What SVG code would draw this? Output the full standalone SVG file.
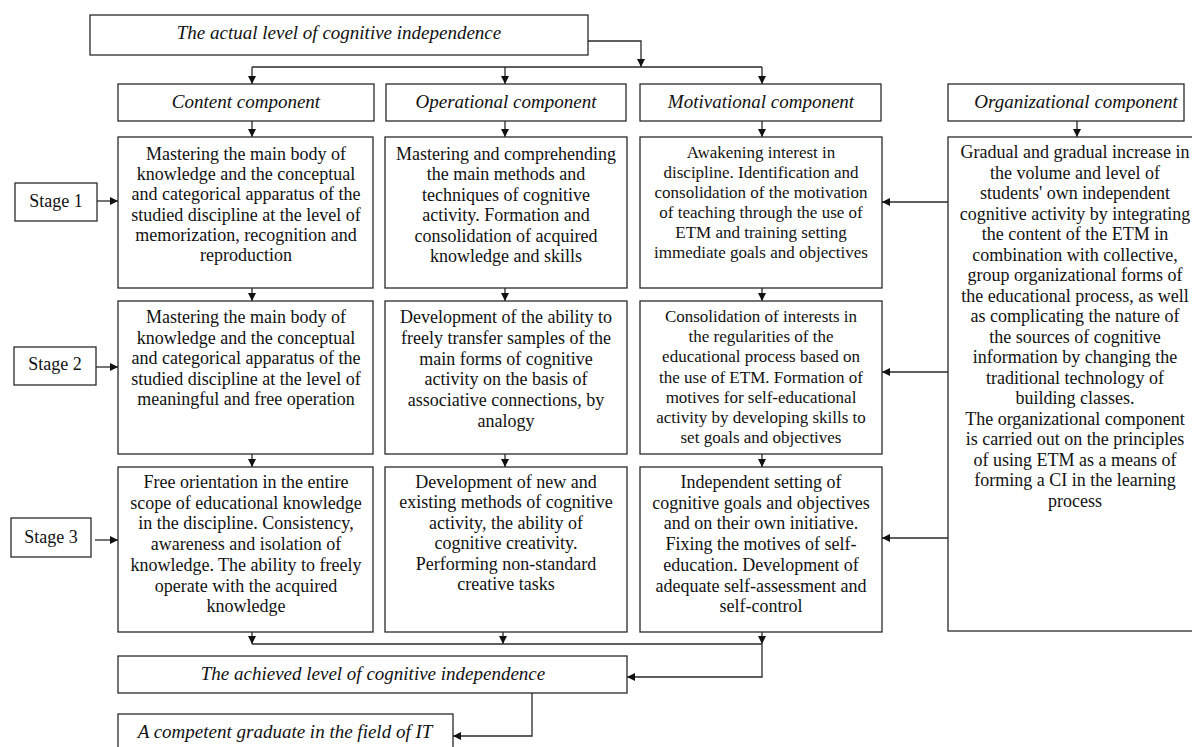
<svg xmlns="http://www.w3.org/2000/svg" width="1192" height="747" viewBox="0 0 1192 747">
<style>
.box{fill:#fff;stroke:#2a2a2a;stroke-width:1.3}
.t{font-family:"Liberation Serif",serif;font-size:18px;text-anchor:middle;fill:#111}
.tm{font-family:"Liberation Serif",serif;font-size:17px;text-anchor:middle;fill:#111}
.ti{font-family:"Liberation Serif",serif;font-size:19px;font-style:italic;text-anchor:middle;fill:#111}
.c{fill:none;stroke:#2a2a2a;stroke-width:1.3}
</style>
<defs>
<marker id="ah" markerUnits="userSpaceOnUse" markerWidth="8" markerHeight="8" refX="8" refY="4" orient="auto">
<path d="M0,0 L8,4 L0,8 z" fill="#111"/>
</marker>
</defs>
<rect width="1192" height="747" fill="#fff"/>

<g id="connectors">
<path class="c" d="M588,41 H641 V67" marker-end="url(#ah)"/>
<path class="c" d="M252,67 H762"/>
<path class="c" d="M252,67 V84" marker-end="url(#ah)"/>
<path class="c" d="M505,67 V84" marker-end="url(#ah)"/>
<path class="c" d="M762,67 V84" marker-end="url(#ah)"/>
<path class="c" d="M252,121 V137" marker-end="url(#ah)"/>
<path class="c" d="M505,121 V137" marker-end="url(#ah)"/>
<path class="c" d="M762,121 V137" marker-end="url(#ah)"/>
<path class="c" d="M1077,121 V137" marker-end="url(#ah)"/>
<path class="c" d="M252,288 V301" marker-end="url(#ah)"/>
<path class="c" d="M505,288 V301" marker-end="url(#ah)"/>
<path class="c" d="M762,288 V301" marker-end="url(#ah)"/>
<path class="c" d="M252,454 V467" marker-end="url(#ah)"/>
<path class="c" d="M505,454 V467" marker-end="url(#ah)"/>
<path class="c" d="M762,454 V467" marker-end="url(#ah)"/>
<path class="c" d="M97,201 H118" marker-end="url(#ah)"/>
<path class="c" d="M96,367 H118" marker-end="url(#ah)"/>
<path class="c" d="M95,540 H118" marker-end="url(#ah)"/>
<path class="c" d="M948,202 H882" marker-end="url(#ah)"/>
<path class="c" d="M948,372 H882" marker-end="url(#ah)"/>
<path class="c" d="M948,538 H882" marker-end="url(#ah)"/>
<path class="c" d="M252,632 V644" marker-end="url(#ah)"/>
<path class="c" d="M503,632 V644" marker-end="url(#ah)"/>
<path class="c" d="M762,632 V644" marker-end="url(#ah)"/>
<path class="c" d="M252,644 H762"/>
<path class="c" d="M762,644 V677 H627" marker-end="url(#ah)"/>
<path class="c" d="M532,693 V736 H453" marker-end="url(#ah)"/>
</g>

<g id="actual-level">
<rect class="box" x="90" y="15" width="498" height="40"/>
<text class="ti" x="339" y="39">The actual level of cognitive independence</text>
</g>

<g id="content-component">
<rect class="box" x="118" y="84" width="256" height="37"/>
<text class="ti" x="246" y="108">Content component</text>
</g>
<g id="operational-component">
<rect class="box" x="386" y="84" width="240" height="37"/>
<text class="ti" x="506" y="108">Operational component</text>
</g>
<g id="motivational-component">
<rect class="box" x="640" y="84" width="241" height="37"/>
<text class="ti" x="761" y="108">Motivational component</text>
</g>
<g id="organizational-component">
<rect class="box" x="948" y="84" width="236" height="37"/>
<text class="ti" x="1076" y="108">Organizational component</text>
</g>

<g id="stage1">
<rect class="box" x="15" y="183" width="82" height="38"/>
<text class="t" x="56" y="207">Stage 1</text>
</g>
<g id="stage2">
<rect class="box" x="14" y="347" width="82" height="38"/>
<text class="t" x="55" y="370">Stage 2</text>
</g>
<g id="stage3">
<rect class="box" x="11" y="518" width="80" height="39"/>
<text class="t" x="51" y="543">Stage 3</text>
</g>

<g id="content-1">
<rect class="box" x="118" y="137" width="255" height="151"/>
<text class="t" x="246" y="160">Mastering the main body of</text>
<text class="t" x="246" y="180.2">knowledge and the conceptual</text>
<text class="t" x="246" y="200.4">and categorical apparatus of the</text>
<text class="t" x="246" y="220.6">studied discipline at the level of</text>
<text class="t" x="246" y="240.8">memorization, recognition and</text>
<text class="t" x="246" y="261">reproduction</text>
</g>
<g id="operational-1">
<rect class="box" x="385" y="137" width="242" height="151"/>
<text class="t" x="506" y="160">Mastering and comprehending</text>
<text class="t" x="506" y="180.4">the main methods and</text>
<text class="t" x="506" y="200.8">techniques of cognitive</text>
<text class="t" x="506" y="221.2">activity. Formation and</text>
<text class="t" x="506" y="241.6">consolidation of acquired</text>
<text class="t" x="506" y="262">knowledge and skills</text>
</g>
<g id="motivational-1">
<rect class="box" x="640" y="137" width="242" height="151"/>
<text class="tm" x="761" y="158">Awakening interest in</text>
<text class="tm" x="761" y="178">discipline. Identification and</text>
<text class="tm" x="761" y="198">consolidation of the motivation</text>
<text class="tm" x="761" y="218">of teaching through the use of</text>
<text class="tm" x="761" y="238">ETM and training setting</text>
<text class="tm" x="761" y="258">immediate goals and objectives</text>
</g>
<g id="organizational-body">
<rect class="box" x="948" y="137" width="260" height="494"/>
<text class="t" x="1075" y="158">Gradual and gradual increase in</text>
<text class="t" x="1075" y="178.5">the volume and level of</text>
<text class="t" x="1075" y="199">students' own independent</text>
<text class="t" x="1075" y="219.5">cognitive activity by integrating</text>
<text class="t" x="1075" y="240">the content of the ETM in</text>
<text class="t" x="1075" y="260.5">combination with collective,</text>
<text class="t" x="1075" y="281">group organizational forms of</text>
<text class="t" x="1075" y="301.5">the educational process, as well</text>
<text class="t" x="1075" y="322">as complicating the nature of</text>
<text class="t" x="1075" y="342.5">the sources of cognitive</text>
<text class="t" x="1075" y="363">information by changing the</text>
<text class="t" x="1075" y="383.5">traditional technology of</text>
<text class="t" x="1075" y="404">building classes.</text>
<text class="t" x="1075" y="424.5">The organizational component</text>
<text class="t" x="1075" y="445">is carried out on the principles</text>
<text class="t" x="1075" y="465.5">of using ETM as a means of</text>
<text class="t" x="1075" y="486">forming a CI in the learning</text>
<text class="t" x="1075" y="506.5">process</text>
</g>

<g id="content-2">
<rect class="box" x="118" y="301" width="255" height="153"/>
<text class="t" x="246" y="323">Mastering the main body of</text>
<text class="t" x="246" y="343.5">knowledge and the conceptual</text>
<text class="t" x="246" y="364">and categorical apparatus of the</text>
<text class="t" x="246" y="384.5">studied discipline at the level of</text>
<text class="t" x="246" y="405">meaningful and free operation</text>
</g>
<g id="operational-2">
<rect class="box" x="385" y="301" width="242" height="153"/>
<text class="t" x="506" y="323">Development of the ability to</text>
<text class="t" x="506" y="343.8">freely transfer samples of the</text>
<text class="t" x="506" y="364.6">main forms of cognitive</text>
<text class="t" x="506" y="385.4">activity on the basis of</text>
<text class="t" x="506" y="406.2">associative connections, by</text>
<text class="t" x="506" y="427">analogy</text>
</g>
<g id="motivational-2">
<rect class="box" x="640" y="301" width="242" height="153"/>
<text class="tm" x="761" y="322">Consolidation of interests in</text>
<text class="tm" x="761" y="342.2">the regularities of the</text>
<text class="tm" x="761" y="362.4">educational process based on</text>
<text class="tm" x="761" y="382.6">the use of ETM. Formation of</text>
<text class="tm" x="761" y="402.8">motives for self-educational</text>
<text class="tm" x="761" y="423">activity by developing skills to</text>
<text class="tm" x="761" y="443.2">set goals and objectives</text>
</g>

<g id="content-3">
<rect class="box" x="118" y="467" width="255" height="165"/>
<text class="t" x="246" y="488">Free orientation in the entire</text>
<text class="t" x="246" y="508.7">scope of educational knowledge</text>
<text class="t" x="246" y="529.4">in the discipline. Consistency,</text>
<text class="t" x="246" y="550.1">awareness and isolation of</text>
<text class="t" x="246" y="570.8">knowledge. The ability to freely</text>
<text class="t" x="246" y="591.5">operate with the acquired</text>
<text class="t" x="246" y="612.2">knowledge</text>
</g>
<g id="operational-3">
<rect class="box" x="385" y="467" width="242" height="165"/>
<text class="t" x="506" y="488">Development of new and</text>
<text class="t" x="506" y="508.4">existing methods of cognitive</text>
<text class="t" x="506" y="528.8">activity, the ability of</text>
<text class="t" x="506" y="549.2">cognitive creativity.</text>
<text class="t" x="506" y="569.6">Performing non-standard</text>
<text class="t" x="506" y="590">creative tasks</text>
</g>
<g id="motivational-3">
<rect class="box" x="640" y="467" width="242" height="165"/>
<text class="t" x="761" y="488">Independent setting of</text>
<text class="t" x="761" y="508.7">cognitive goals and objectives</text>
<text class="t" x="761" y="529.4">and on their own initiative.</text>
<text class="t" x="761" y="550.1">Fixing the motives of self-</text>
<text class="t" x="761" y="570.8">education. Development of</text>
<text class="t" x="761" y="591.5">adequate self-assessment and</text>
<text class="t" x="761" y="612.2">self-control</text>
</g>

<g id="achieved-level">
<rect class="box" x="118" y="656" width="509" height="37"/>
<text class="ti" x="373" y="680">The achieved level of cognitive independence</text>
</g>
<g id="graduate">
<rect class="box" x="118" y="714" width="335" height="40"/>
<text class="ti" x="285" y="738">A competent graduate in the field of IT</text>
</g>
</svg>
